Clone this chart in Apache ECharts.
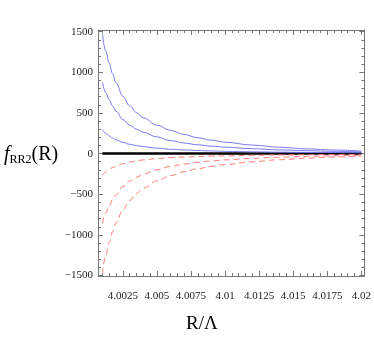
<!DOCTYPE html>
<html><head><meta charset="utf-8">
<script src="https://cdn.jsdelivr.net/npm/echarts@6/dist/echarts.min.js"></script>
<style>html,body{margin:0;padding:0;background:#fff}#c{width:374px;height:346px}</style>
</head><body><div id="c"></div>
<script>
const xValues = [4.001, 4.00125, 4.0015, 4.00175, 4.002, 4.0025, 4.003, 4.0035, 4.004, 4.005, 4.006, 4.007, 4.008, 4.009, 4.010, 4.012, 4.014, 4.016, 4.018, 4.020];
const blueHigh = [1470, 1260, 1110, 980, 870, 705, 590, 505, 440, 350, 285, 235, 195, 165, 140, 105, 78, 58, 44, 32];
const blueMid  = [880, 750, 660, 585, 520, 420, 350, 300, 262, 205, 160, 130, 108, 92, 79, 60, 46, 36, 28, 22];
const blueLow  = [295, 250, 218, 192, 170, 138, 115, 98, 85, 67, 54, 45, 38, 33, 28, 22, 18, 15, 13, 11];
const redLow   = [-1480, -1250, -1090, -960, -850, -690, -575, -490, -425, -335, -270, -222, -185, -157, -134, -100, -75, -56, -42, -30];
const redMid   = [-860, -730, -640, -565, -505, -405, -338, -290, -252, -198, -158, -128, -106, -90, -77, -58, -44, -34, -27, -21];
const redHigh  = [-265, -225, -196, -172, -153, -125, -104, -89, -77, -61, -50, -42, -36, -31, -27, -21, -17, -14, -12, -10];
const zeroLine = [0, 0];
const zeroX = [4.001, 4.020];

const xTickValues = [4.0025, 4.005, 4.0075, 4.01, 4.0125, 4.015, 4.0175, 4.02];
const xTickLabels = ['4.0025', '4.005', '4.0075', '4.01', '4.0125', '4.015', '4.0175', '4.02'];
const xMinorValues = [4.001, 4.0015, 4.002, 4.003, 4.0035, 4.004, 4.0045, 4.0055, 4.006, 4.0065, 4.007, 4.008, 4.0085, 4.009, 4.0095, 4.0105, 4.011, 4.0115, 4.012, 4.013, 4.0135, 4.014, 4.0145, 4.0155, 4.016, 4.0165, 4.017, 4.018, 4.0185, 4.019, 4.0195];
const yTickValues = [-1500, -1000, -500, 0, 500, 1000, 1500];
const yTickLabels = ['\u22121500', '\u22121000', '\u2212500', '0', '500', '1000', '1500'];
const yMinorValues = [-1400, -1300, -1200, -1100, -900, -800, -700, -600, -400, -300, -200, -100, 100, 200, 300, 400, 600, 700, 800, 900, 1100, 1200, 1300, 1400];

const X_MIN = 4.000677, X_MAX = 4.02022, Y_MIN = -1505, Y_MAX = 1520;
const frameColor = '#777';
const serif = '"Liberation Serif", "DejaVu Serif", serif';

function zip(xs, ys) { return xs.map((x, i) => [x, ys[i]]); }

function xAxisDef(pos, vals, len, showLabel, showLine) {
  return {
    type: 'value', position: pos, min: X_MIN, max: X_MAX,
    axisLine: { show: showLine, onZero: false, lineStyle: { color: frameColor, width: 1 } },
    axisTick: { show: true, inside: true, length: len, customValues: vals, lineStyle: { color: frameColor } },
    axisLabel: {
      show: showLabel, customValues: vals, margin: 15, color: '#222', fontFamily: serif, fontSize: 11,
      formatter: v => { const i = xTickValues.findIndex(t => Math.abs(t - v) < 1e-7); return i >= 0 ? xTickLabels[i] : ''; }
    },
    splitLine: { show: false }
  };
}
function yAxisDef(pos, vals, len, showLabel, showLine) {
  return {
    type: 'value', position: pos, min: Y_MIN, max: Y_MAX,
    axisLine: { show: showLine, onZero: false, lineStyle: { color: frameColor, width: 1 } },
    axisTick: { show: true, inside: true, length: len, customValues: vals, lineStyle: { color: frameColor } },
    axisLabel: {
      show: showLabel, customValues: vals, margin: 5, color: '#222', fontFamily: serif, fontSize: 11,
      formatter: v => { const i = yTickValues.findIndex(t => Math.abs(t - v) < 1e-6); return i >= 0 ? yTickLabels[i] : ''; }
    },
    splitLine: { show: false }
  };
}

const blue = '#7a7af5';
const red = '#ff7a7a';
function curve(ys, color, dashed) {
  return {
    type: 'line', data: zip(xValues, ys), showSymbol: false, smooth: 0.4, smoothMonotone: 'x',
    lineStyle: { color: color, width: 1, type: dashed ? [6, 4] : 'solid' }, silent: true, z: 3
  };
}

const chart = echarts.init(document.getElementById('c'), null, { renderer: 'canvas' });
chart.setOption({
  animation: false,
  backgroundColor: '#fff',
  grid: { left: 98, right: 8, top: 30, bottom: 70, containLabel: false },
  xAxis: [
    xAxisDef('bottom', xTickValues, 5, true, true),
    xAxisDef('bottom', xMinorValues, 3, false, false),
    xAxisDef('top', xTickValues, 5, false, true),
    xAxisDef('top', xMinorValues, 3, false, false)
  ],
  yAxis: [
    yAxisDef('left', yTickValues, 5, true, true),
    yAxisDef('left', yMinorValues, 3, false, false),
    yAxisDef('right', yTickValues, 5, false, true),
    yAxisDef('right', yMinorValues, 3, false, false)
  ],
  series: [
    { type: 'line', data: zip(zeroX, zeroLine), showSymbol: false, lineStyle: { color: '#000', width: 2.5 }, silent: true, z: 2 },
    curve(blueHigh, blue, false),
    curve(blueMid, blue, false),
    curve(blueLow, blue, false),
    curve(redLow, red, true),
    curve(redMid, red, true),
    curve(redHigh, red, true)
  ],
  graphic: [
    {
      type: 'text', left: 4, top: 145,
      style: {
        text: '{f|f}{s|RR2}{r|(R)}',
        rich: {
          f: { fontFamily: serif, fontStyle: 'italic', fontSize: 20, fill: '#000' },
          s: { fontFamily: serif, fontSize: 12, fill: '#000', padding: [9, 0, 0, 0] },
          r: { fontFamily: serif, fontSize: 20, fill: '#000' }
        }
      }
    },
    {
      type: 'text', left: 186, top: 315,
      style: { text: 'R/\u039B', fontFamily: serif, fontSize: 19, fill: '#000' }
    }
  ]
});
</script></body></html>
